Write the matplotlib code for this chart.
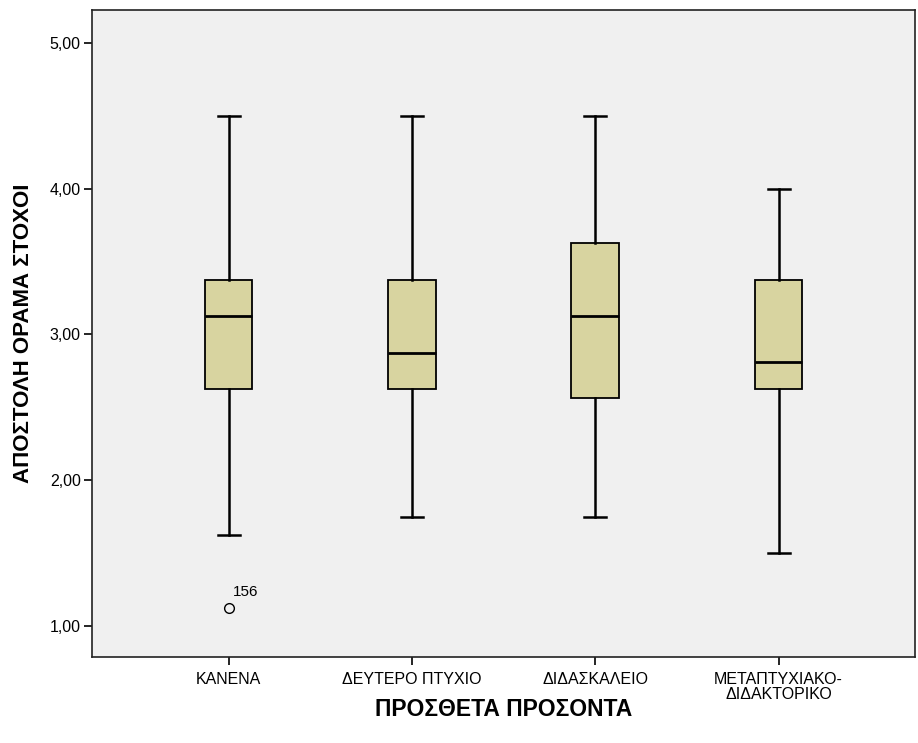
import matplotlib.pyplot as plt
from matplotlib.ticker import FuncFormatter

plt.rcParams['font.family'] = ['Liberation Sans', 'DejaVu Sans']

categories = ['ΚΑΝΕΝΑ', 'ΔΕΥΤΕΡΟ ΠΤΥΧΙΟ', 'ΔΙΔΑΣΚΑΛΕΙΟ', 'ΜΕΤΑΠΤΥΧΙΑΚΟ-\nΔΙΔΑΚΤΟΡΙΚΟ']
whisker_low = [1.625, 1.75, 1.75, 1.5]
q1 = [2.625, 2.625, 2.5625, 2.625]
median = [3.125, 2.875, 3.125, 2.8125]
q3 = [3.375, 3.375, 3.625, 3.375]
whisker_high = [4.5, 4.5, 4.5, 4.0]
outliers = [[1.125], [], [], []]
outlier_ids = [['156'], [], [], []]

stats = []
for i in range(len(categories)):
    stats.append(dict(whislo=whisker_low[i], q1=q1[i], med=median[i], q3=q3[i],
                      whishi=whisker_high[i], fliers=outliers[i]))

fig = plt.figure(figsize=(9.18, 7.43), dpi=100)
ax = fig.add_axes([0.1002, 0.1157, 0.8968, 0.8708])
ax.set_facecolor('#F0F0F0')

pos = list(range(len(categories)))
ax.bxp(stats, positions=pos, widths=0.26, patch_artist=True,
       boxprops=dict(facecolor='#D8D4A0', edgecolor='black', linewidth=1.3),
       medianprops=dict(color='black', linewidth=2),
       whiskerprops=dict(color='black', linewidth=1.8),
       capprops=dict(color='black', linewidth=1.8),
       capwidths=0.12,
       flierprops=dict(marker='o', markersize=7, markerfacecolor='none',
                       markeredgecolor='black', markeredgewidth=1))

for i, ids in enumerate(outlier_ids):
    for v, lab in zip(outliers[i], ids):
        ax.annotate(lab, (pos[i], v), xytext=(3, 6), textcoords='offset points',
                    fontsize=11, ha='left', va='bottom')

ax.set_xlim(-0.745, 3.745)
ax.set_ylim(0.787, 5.226)
ax.set_yticks([1, 2, 3, 4, 5])
ax.yaxis.set_major_formatter(FuncFormatter(lambda v, p: ('%.2f' % v).replace('.', ',')))
ax.set_xticks(pos)
ax.set_xticklabels(categories, linespacing=0.95)
ax.tick_params(axis='both', labelsize=11.5, length=6, width=1.2, direction='out')
ax.tick_params(axis='x', pad=5)
ax.tick_params(axis='y', pad=2)

for s in ax.spines.values():
    s.set_linewidth(1.2)
    s.set_color('#222222')

ax.set_xlabel('ΠΡΟΣΘΕΤΑ ΠΡΟΣΟΝΤΑ', fontsize=16.5, fontweight='bold')
ax.set_ylabel('ΑΠΟΣΤΟΛΗ ΟΡΑΜΑ ΣΤΟΧΟΙ', fontsize=16, fontweight='bold')
ax.xaxis.set_label_coords(0.5, -0.064)
ax.yaxis.set_label_coords(-0.071, 0.5)

fig.savefig('out.png', dpi=100)
